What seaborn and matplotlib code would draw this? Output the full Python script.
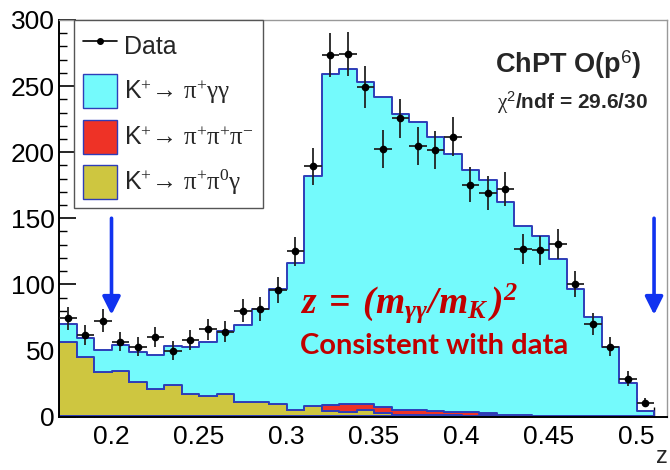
import numpy as np
import pandas as pd
import matplotlib
matplotlib.use("Agg")
import matplotlib.pyplot as plt
import seaborn as sns
from matplotlib.lines import Line2D
from matplotlib.patches import Patch
from matplotlib.ticker import MultipleLocator

# ---------------- data ----------------
bin_edges = [round(0.17 + 0.01 * i, 3) for i in range(35)]
z_centers = [round(e + 0.005, 3) for e in bin_edges[:-1]]

signal_pipgg = [13.3, 14.4, 16.7, 19.5, 22.5, 26.0, 29.5, 35.6, 41.2, 48.2,
                58.1, 70.0, 87.2, 110.8, 174.1, 250.5, 253.5, 243.4, 234.5, 224.3,
                217.7, 207.2, 194.7, 183.5, 176.3, 160.9, 143.4, 135.7, 119.2, 96.4,
                75.1, 52.9, 25.1, 4.2]
bkg_k3pi = [0, 0, 0, 0, 0, 0, 0, 0, 0, 0,
            0, 0, 0, 0, 0, 4.9, 6.3, 4.6, 4.6, 3.5,
            3.5, 3.2, 2.7, 2.6, 1.6, 0.6, 0.5, 0.2, 0, 0,
            0, 0, 0, 0]
bkg_pipi0g = [56.7, 44.8, 33.7, 34.7, 26.4, 20.6, 23.9, 16.8, 15.5, 16.8,
              11.2, 11.2, 9.2, 5.2, 7.6, 3.8, 3.2, 4.9, 2.4, 1.4,
              1.4, 1.1, 0.9, 0.6, 0.8, 0.5, 0.4, 0.3, 0, 0,
              0, 0, 0, 0]
data_counts = [74.4, 61.7, 72.6, 56.7, 52.9, 60.0, 49.9, 58.0, 66.0, 64.0,
               80.2, 81.4, 96.0, 124.9, 189.3, 273.4, 274.4, 249.1, 202.4, 225.6,
               204.7, 201.6, 211.8, 175.3, 169.1, 172.1, 126.6, 125.6, 130.7, 100.4,
               69.8, 52.7, 28.7, 10.5]
data_errors = [8.6, 7.9, 8.5, 7.5, 7.3, 7.7, 7.1, 7.6, 8.1, 8.0,
               9.0, 9.0, 9.8, 11.2, 13.8, 16.5, 16.6, 15.8, 14.2, 15.0,
               14.3, 14.2, 14.6, 13.2, 13.0, 13.1, 11.3, 11.2, 11.4, 10.0,
               8.4, 7.3, 5.4, 3.2]

components = ["sig", "k3pi", "pi0g"]
legend_labels = [r"K$^{+}$→ $\mathrm{\pi^{+}\gamma\gamma}$",
                 r"K$^{+}$→ $\mathrm{\pi^{+}\pi^{+}\pi^{-}}$",
                 r"K$^{+}$→ $\mathrm{\pi^{+}\pi^{0}\gamma}$"]
arrow_z = [0.2, 0.51]
arrow_range = (150, 77)

# ---------------- style ----------------
sns.set_theme(style="white")
plt.rcParams["font.family"] = ["Liberation Sans", "DejaVu Sans"]
plt.rcParams["mathtext.fontset"] = "custom"
plt.rcParams["mathtext.rm"] = "Liberation Serif"
plt.rcParams["mathtext.it"] = "Liberation Serif:italic"
plt.rcParams["mathtext.bf"] = "Liberation Serif:italic:bold"
plt.rcParams["mathtext.sf"] = "Liberation Sans"

colors = {"sig": "#74FAFC", "k3pi": "#EE3226", "pi0g": "#CEC640"}
edge_col = "#2E3DB8"

df = pd.DataFrame({
    "z": z_centers * 3,
    "w": list(signal_pipgg) + list(bkg_k3pi) + list(bkg_pipi0g),
    "comp": [c for c in components for _ in z_centers],
})

fig = plt.figure(figsize=(6.7, 4.7), dpi=100)
L, R, T, B = 59, 667, 20, 416.5
ax = fig.add_axes([L / 670, 1 - B / 470, (R - L) / 670, (B - T) / 470])

sns.histplot(data=df, x="z", weights="w", hue="comp", hue_order=components,
             bins=bin_edges, multiple="stack", element="step", fill=True,
             palette=colors, edgecolor=edge_col, linewidth=1.4, alpha=1,
             legend=False, ax=ax)

ax.errorbar(z_centers, data_counts, yerr=data_errors, xerr=0.005,
            fmt="o", color="black", ecolor="#222222", elinewidth=1.3,
            markersize=4.5, capsize=0, zorder=5)

for zx in arrow_z:
    ax.annotate("", xy=(zx, arrow_range[1]), xytext=(zx, arrow_range[0]),
                arrowprops=dict(arrowstyle="-|>,head_length=0.9,head_width=0.45",
                                color="#1133F0", lw=2.6, shrinkA=0, shrinkB=0),
                zorder=6)

ax.set_xlim(0.17, 0.5174)
ax.set_ylim(0, 300)
ax.xaxis.set_minor_locator(MultipleLocator(0.01))
ax.yaxis.set_major_locator(MultipleLocator(50))
ax.yaxis.set_minor_locator(MultipleLocator(10))
ax.set_xticks([0.2, 0.25, 0.3, 0.35, 0.4, 0.45, 0.5])
ax.set_xticklabels(["0.2", "0.25", "0.3", "0.35", "0.4", "0.45", "0.5"])
ax.tick_params(axis="both", which="both", direction="in", labelsize=19,
               colors="black", bottom=True, left=True, top=False, right=False)
ax.tick_params(axis="x", which="major", length=14, width=1.2, pad=6)
ax.tick_params(axis="x", which="minor", length=7, width=1.0)
ax.tick_params(axis="y", which="major", length=12, width=1.2, pad=3)
ax.tick_params(axis="y", which="minor", length=6, width=1.0)
ax.set_xlabel("")
ax.set_ylabel("")
for s in ["left", "bottom"]:
    ax.spines[s].set_color("black")
    ax.spines[s].set_linewidth(1.4)
for s in ["top", "right"]:
    ax.spines[s].set_color("#999999")
    ax.spines[s].set_linewidth(1.0)
ax.spines["bottom"].set_zorder(10)

fig.text(662 / 670, 1 - 457 / 470, "z", fontsize=17, ha="center", va="center")

handles = [Line2D([0], [0], color="black", marker="o", markersize=4, lw=1.2)]
for c in components:
    handles.append(Patch(facecolor=colors[c], edgecolor=edge_col, linewidth=1.0))
leg = ax.legend(handles, ["Data"] + legend_labels, loc="upper left",
                bbox_to_anchor=((74 - L) / (R - L), 1.0), borderaxespad=0,
                fontsize=18, frameon=True, fancybox=False, framealpha=1,
                edgecolor="#555555", handlelength=1.35, handleheight=1.7,
                handletextpad=0.3, labelspacing=0.47, borderpad=0.35)
leg.get_frame().set_linewidth(1.0)

ax.text((495 - L) / (R - L), (B - 65) / (B - T), r"ChPT O(p$^{\mathsf{6}}$)",
        transform=ax.transAxes, fontsize=19.5, fontweight="bold", ha="left", va="center")
ax.text((497 - L) / (R - L), (B - 103) / (B - T), r"$\mathrm{\chi}^{\mathsf{2}}$/ndf = 29.6/30",
        transform=ax.transAxes, fontsize=15, fontweight="bold", ha="left", va="center")
ax.text((300 - L) / (R - L), (B - 303) / (B - T),
        r"$\mathbf{z\;=\;(m_{\gamma\gamma}/m_{K}\,)^{2}}$",
        transform=ax.transAxes, fontsize=27, color="#C00000", ha="left", va="center")
ax.text((300 - L) / (R - L), (B - 346) / (B - T), "Consistent with data",
        transform=ax.transAxes, fontsize=21, fontweight="bold", color="#C00000",
        ha="left", va="center", family=["Lato", "DejaVu Sans"])

fig.savefig("out.png", dpi=100)
